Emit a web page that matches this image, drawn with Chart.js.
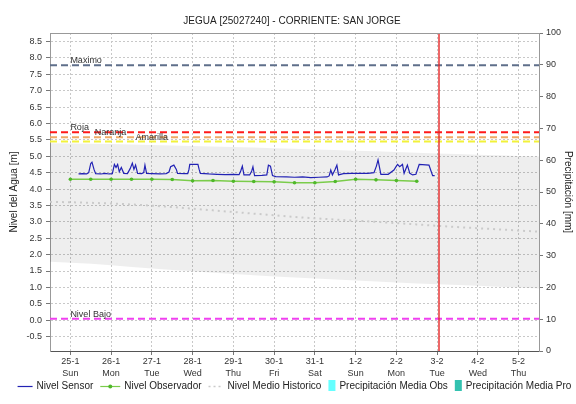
<!DOCTYPE html>
<html lang="es">
<head>
<meta charset="UTF-8">
<title>JEGUA [25027240] - CORRIENTE: SAN JORGE</title>
<style>
  * { margin: 0; padding: 0; }
  body { background: #fff; }
  #wrap { width: 576px; height: 404px; }
</style>
</head>
<body>
<div id="wrap"><canvas id="nivelChart"></canvas></div>
<script src="https://cdn.jsdelivr.net/npm/chart.js@4/dist/chart.umd.min.js"></script>
<script>
// eje x: dias desde 25-1 (0) hasta 5-2 (11)
const dayTicks = [0, 1, 2, 3, 4, 5, 6, 7, 8, 9, 10, 11];
const dateLabels = ['25-1', '26-1', '27-1', '28-1', '29-1', '30-1', '31-1', '1-2', '2-2', '3-2', '4-2', '5-2'];
const weekDays = ['Sun', 'Mon', 'Tue', 'Wed', 'Thu', 'Fri', 'Sat', 'Sun', 'Mon', 'Tue', 'Wed', 'Thu'];
const levelTicks = [-0.5, 0, 0.5, 1, 1.5, 2, 2.5, 3, 3.5, 4, 4.5, 5, 5.5, 6, 6.5, 7, 7.5, 8, 8.5];
const precipTicks = [0, 10, 20, 30, 40, 50, 60, 70, 80, 90, 100];
const nowDay = 9.04;

// Nivel Sensor
const sensorDays = [
  0.20, 0.30, 0.40, 0.45, 0.50, 0.53, 0.58, 0.62, 0.75, 0.85, 0.95,
  1.03, 1.08, 1.12, 1.16, 1.20, 1.25, 1.31, 1.40, 1.47, 1.52, 1.56, 1.60, 1.65, 1.75, 1.80, 1.83, 1.87,
  2.00, 2.20, 2.35, 2.42, 2.46, 2.54, 2.60, 2.63, 2.80, 2.88, 2.91, 2.93,
  3.13, 3.16, 3.19, 3.40, 3.60, 3.80, 4.00, 4.14, 4.18, 4.22, 4.26, 4.40, 4.45, 4.48, 4.52, 4.70, 4.82, 4.86, 4.91, 4.96,
  5.04, 5.30, 5.50, 5.70, 5.90, 6.10, 6.30, 6.35, 6.39, 6.43, 6.49, 6.54, 6.58, 6.70, 6.90,
  7.10, 7.30, 7.45, 7.51, 7.55, 7.62, 7.80, 7.94, 8.00, 8.03, 8.08, 8.15, 8.19, 8.27, 8.33, 8.40, 8.48, 8.56, 8.80, 8.85, 8.89, 8.94
];
const sensorLevels = [
  4.46, 4.47, 4.46, 4.50, 4.78, 4.82, 4.60, 4.47, 4.46, 4.48, 4.46,
  4.47, 4.75, 4.66, 4.75, 4.53, 4.66, 4.48, 4.47, 4.63, 4.79, 4.60, 4.73, 4.48, 4.47, 4.50, 4.73, 4.48,
  4.47, 4.46, 4.47, 4.52, 4.68, 4.73, 4.60, 4.48, 4.47, 4.47, 4.60, 4.75,
  4.75, 4.60, 4.48, 4.46, 4.45, 4.44, 4.45, 4.44, 4.55, 4.70, 4.43, 4.43, 4.55, 4.68, 4.41, 4.42, 4.43, 4.73, 4.70, 4.41,
  4.38, 4.37, 4.36, 4.37, 4.35, 4.36, 4.37, 4.40, 4.58, 4.43, 4.58, 4.73, 4.43, 4.47, 4.48,
  4.48, 4.48, 4.50, 4.70, 4.89, 4.45, 4.45, 4.58, 4.70, 4.75, 4.68, 4.75, 4.48, 4.73, 4.48, 4.43, 4.45, 4.75, 4.73, 4.55, 4.41, 4.41
];

// Nivel Observador (lecturas cada 12 h)
const observerDays = [0, 0.5, 1, 1.5, 2, 2.5, 3, 3.5, 4, 4.5, 5, 5.5, 6, 6.5, 7, 7.5, 8, 8.5];
const observerLevels = [4.30, 4.30, 4.30, 4.30, 4.30, 4.29, 4.25, 4.26, 4.24, 4.23, 4.22, 4.19, 4.19, 4.23, 4.30, 4.28, 4.26, 4.24];

// Nivel medio historico y su rango (max / min)
const historicDays = [-0.5, 0.5, 1.5, 2.5, 3.5, 4.5, 5.5, 6.5, 7.5, 8.5, 9.5, 10.5, 11.5];
const historicMean = [3.61, 3.58, 3.53, 3.45, 3.35, 3.25, 3.15, 3.07, 3.00, 2.92, 2.84, 2.77, 2.70];
const historicMax = [5.40, 5.38, 5.36, 5.33, 5.30, 5.27, 5.23, 5.19, 5.15, 5.11, 5.07, 5.03, 4.99];
const historicMin = [1.78, 1.72, 1.62, 1.53, 1.45, 1.37, 1.30, 1.24, 1.18, 1.12, 1.07, 1.02, 0.97];

// Umbrales de alerta
const thresholdNames = ['Maximo', 'Roja', 'Naranja', 'Amarilla', 'Nivel Bajo'];
const thresholdLevels = [7.78, 5.73, 5.58, 5.45, 0.04];

// Precipitacion (sin datos en el periodo)
const precipObs = [];
const precipPro = [];

const thresholdColors = ['#5f6f8a', '#ff1a1a', '#eeaa66', '#f2f23a', '#f040f0'];
const thresholdTextAt = [0, 0, 0.6, 1.6, 0];

const xy = (xs, ys) => xs.map((x, i) => ({ x: x, y: ys[i] }));
const span = v => [{ x: -0.5, y: v }, { x: 11.5, y: v }];

const datasets = [
  {
    label: 'Nivel Sensor', legendMark: 'line',
    data: xy(sensorDays, sensorLevels),
    borderColor: '#2222b4', borderWidth: 1.2, pointRadius: 0, tension: 0
  },
  {
    label: 'Nivel Observador', legendMark: 'point',
    data: xy(observerDays, observerLevels),
    borderColor: '#7acc4a', borderWidth: 1.5,
    pointRadius: 1.8, pointBorderWidth: 0,
    pointBackgroundColor: '#4fb82a', pointBorderColor: '#4fb82a'
  }
];

thresholdNames.forEach((name, i) => {
  datasets.push({
    label: name,
    data: span(thresholdLevels[i]),
    borderColor: thresholdColors[i], borderWidth: 2, borderDash: [7, 4],
    pointRadius: 0
  });
});

datasets.push(
  {
    label: 'Nivel Medio Historico', legendMark: 'dots',
    data: xy(historicDays, historicMean),
    borderColor: '#cacaca', borderWidth: 2, borderDash: [2, 4],
    pointRadius: 0, cubicInterpolationMode: 'monotone'
  },
  {
    label: 'Rango Max',
    data: xy(historicDays, historicMax),
    borderWidth: 0, pointRadius: 0, fill: '+1',
    backgroundColor: 'rgba(0, 0, 0, 0.065)', cubicInterpolationMode: 'monotone'
  },
  {
    label: 'Rango Min',
    data: xy(historicDays, historicMin),
    borderWidth: 0, pointRadius: 0, cubicInterpolationMode: 'monotone'
  },
  {
    type: 'bar', label: 'Precipitación Media Obs', legendMark: 'box',
    data: precipObs, yAxisID: 'y2', backgroundColor: '#66ffff'
  },
  {
    type: 'bar', label: 'Precipitación Media Pro', legendMark: 'box',
    data: precipPro, yAxisID: 'y2', backgroundColor: '#33c2b0'
  }
);

// etiquetas de umbrales, linea de fecha actual y borde superior
const marksPlugin = {
  id: 'levelMarks',
  afterDatasetsDraw(chart) {
    const { ctx, chartArea, scales } = chart;
    ctx.save();
    ctx.font = '9px "Liberation Sans", Arial, sans-serif';
    ctx.fillStyle = '#333';
    ctx.textBaseline = 'alphabetic';
    thresholdNames.forEach((name, i) => {
      const x = scales.x.getPixelForValue(thresholdTextAt[i]);
      const y = scales.y.getPixelForValue(thresholdLevels[i]);
      ctx.fillText(name, x, y - 2);
    });

    ctx.setLineDash([]);
    const nx = Math.round(scales.x.getPixelForValue(nowDay));
    ctx.strokeStyle = 'rgb(230, 40, 40)';
    ctx.lineWidth = 1.4;
    ctx.beginPath();
    ctx.moveTo(nx, chartArea.top);
    ctx.lineTo(nx, chartArea.bottom);
    ctx.stroke();

    ctx.strokeStyle = '#999';
    ctx.lineWidth = 1;
    ctx.beginPath();
    ctx.moveTo(chartArea.left, chartArea.top + 0.5);
    ctx.lineTo(chartArea.right, chartArea.top + 0.5);
    ctx.stroke();
    ctx.restore();
  }
};

// leyenda inferior con marcas de ancho propio
const legendPlugin = {
  id: 'bottomLegend',
  afterDraw(chart) {
    const { ctx, chartArea } = chart;
    const items = chart.data.datasets.filter(d => d.legendMark);
    const markW = { line: 15, point: 20, dots: 15, box: 7 };
    ctx.save();
    ctx.font = '10px "Liberation Sans", Arial, sans-serif';
    let total = 0;
    items.forEach((d, i) => {
      total += markW[d.legendMark] + 4 + ctx.measureText(d.label).width + (i ? 7 : 0);
    });
    let x = (chartArea.left + chartArea.right) / 2 - total / 2;
    const y = 386;
    ctx.textBaseline = 'middle';
    items.forEach(d => {
      const w = markW[d.legendMark];
      if (d.legendMark === 'box') {
        ctx.fillStyle = d.backgroundColor;
        ctx.fillRect(x, y - 6, w, 11);
      } else {
        ctx.strokeStyle = d.borderColor;
        ctx.lineWidth = d.legendMark === 'dots' ? 1.5 : 1.2;
        ctx.setLineDash(d.legendMark === 'dots' ? [2, 3] : []);
        ctx.beginPath();
        ctx.moveTo(x, y + 0.5);
        ctx.lineTo(x + w, y + 0.5);
        ctx.stroke();
        ctx.setLineDash([]);
        if (d.legendMark === 'point') {
          ctx.fillStyle = d.pointBackgroundColor;
          ctx.beginPath();
          ctx.arc(x + w / 2, y + 0.5, 2, 0, Math.PI * 2);
          ctx.fill();
        }
      }
      x += w + 4;
      ctx.fillStyle = '#222';
      ctx.fillText(d.label, x, y);
      x += ctx.measureText(d.label).width + 7;
    });
    ctx.restore();
  }
};

Chart.defaults.font.family = '"Liberation Sans", Arial, sans-serif';
Chart.defaults.color = '#333';

const ctx = document.getElementById('nivelChart');
new Chart(ctx, {
  type: 'line',
  data: { datasets },
  plugins: [marksPlugin, legendPlugin],
  options: {
    responsive: true,
    maintainAspectRatio: false,
    animation: false,
    devicePixelRatio: 1,
    layout: { padding: { left: 8, right: 0, top: 0, bottom: 25 } },
    plugins: {
      legend: { display: false },
      tooltip: { enabled: false },
      title: {
        display: true,
        text: 'JEGUA [25027240] - CORRIENTE: SAN JORGE',
        color: '#222',
        font: { size: 10, weight: 'normal', lineHeight: 1.2 },
        padding: { top: 15, bottom: 6 }
      }
    },
    scales: {
      x: {
        type: 'linear',
        offset: false,
        min: -0.5,
        max: 11.5,
        afterBuildTicks: scale => { scale.ticks = dayTicks.map(v => ({ value: v })); },
        afterFit: scale => { scale.height = 28; },
        ticks: {
          autoSkip: false,
          maxRotation: 0,
          padding: 1,
          color: '#333',
          font: { size: 9, lineHeight: 1.3 },
          callback: v => [dateLabels[v], weekDays[v]]
        },
        grid: { offset: false, color: '#c8c8c8', tickColor: '#777', tickLength: 4 },
        border: { color: '#555', dash: [2, 2] }
      },
      y: {
        position: 'left',
        min: -0.94,
        max: 8.76,
        afterBuildTicks: scale => { scale.ticks = levelTicks.map(v => ({ value: v })); },
        afterFit: scale => { scale.width = 42; },
        ticks: { padding: 4, color: '#333', font: { size: 9 }, callback: v => v.toFixed(1) },
        grid: { color: '#c8c8c8', tickColor: '#777', tickLength: 4 },
        border: { color: '#999', dash: [2, 2] },
        title: {
          display: true,
          text: 'Nivel del Agua [m]',
          color: '#222',
          font: { size: 10, lineHeight: 1.2 },
          padding: { top: 0, bottom: 0 }
        }
      },
      y2: {
        position: 'right',
        min: 0,
        max: 100,
        afterBuildTicks: scale => { scale.ticks = precipTicks.map(v => ({ value: v })); },
        afterFit: scale => { scale.width = 37; },
        ticks: { padding: 3, color: '#333', font: { size: 9 } },
        grid: { drawOnChartArea: false, tickColor: '#777', tickLength: 4 },
        border: { color: '#999' },
        title: {
          display: true,
          text: 'Precipitación [mm]',
          color: '#222',
          font: { size: 10, lineHeight: 1.2 },
          padding: { top: 2, bottom: 0 }
        }
      }
    }
  }
});
</script>
</body>
</html>
